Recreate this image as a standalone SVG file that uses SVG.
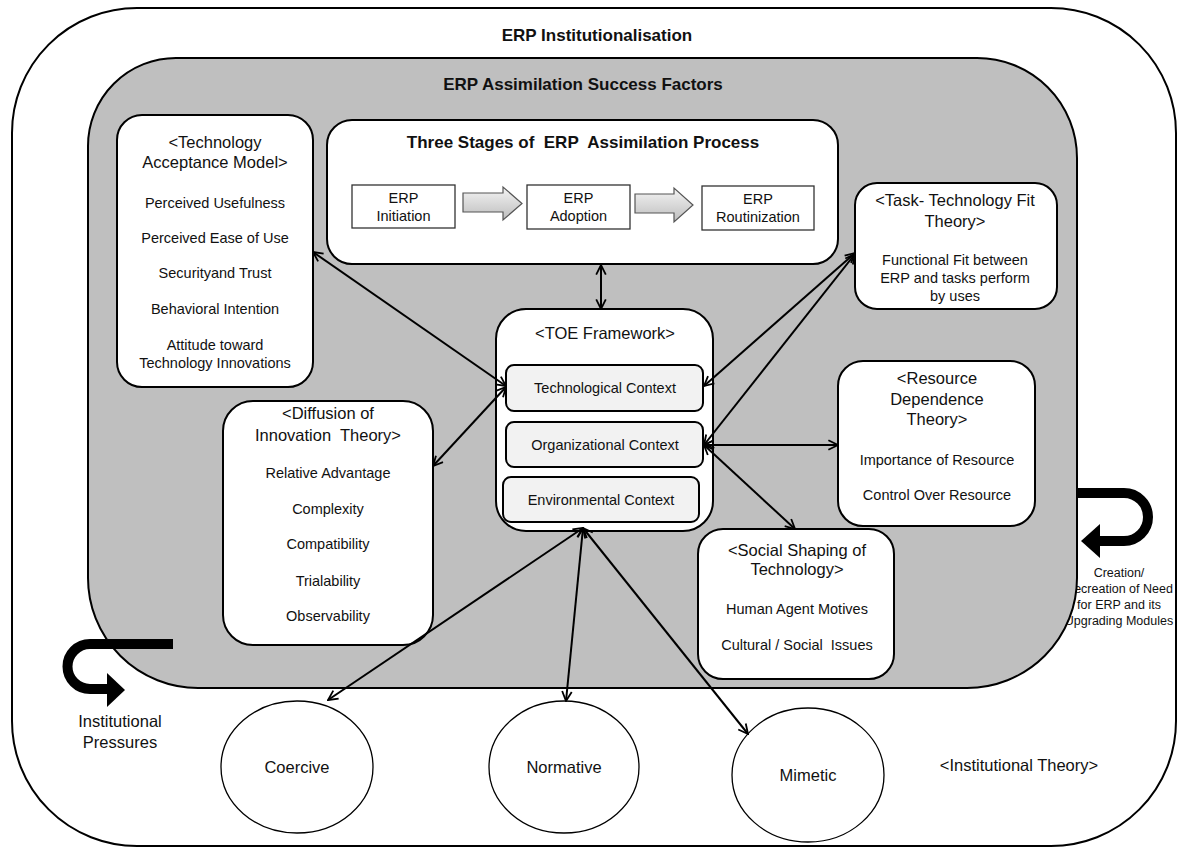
<svg xmlns="http://www.w3.org/2000/svg" width="1180" height="849" viewBox="0 0 1180 849">
<defs>
<marker id="ah" viewBox="0 0 10 10" markerWidth="6" markerHeight="6" refX="9" refY="5" orient="auto-start-reverse">
<path d="M1,1 L9,5 L1,9" fill="none" stroke="#000" stroke-width="1.5"/>
</marker>
<linearGradient id="blk" x1="0" y1="0" x2="0" y2="1">
<stop offset="0" stop-color="#f4f4f4"/>
<stop offset="1" stop-color="#bdbdbd"/>
</linearGradient>
<style>
text{font-family:"Liberation Sans",Arial,sans-serif;fill:#111;text-anchor:middle}
.t{font-size:17px;font-weight:bold}
.h{font-size:16.5px}
.i{font-size:14.5px}
.s{font-size:14.5px}
.c{font-size:12.5px}
.box{fill:#fff;stroke:#000;stroke-width:2}
.ctx{fill:#f2f2f2;stroke:#000;stroke-width:2}
.stage{fill:#fff;stroke:#333;stroke-width:1.3}
.blk{fill:url(#blk);stroke:#555;stroke-width:1.2}
.con{fill:none;stroke:#000;stroke-width:2;marker-start:url(#ah);marker-end:url(#ah)}
.big{fill:none;stroke:#000;stroke-width:10}
.ell{fill:#fff;stroke:#000;stroke-width:1.3}
</style>
</defs>

<g id="institutionalisation">
<rect x="12" y="8" width="1164" height="838" rx="125" fill="#fff" stroke="#000" stroke-width="2"/>
<text class="t" x="597" y="41">ERP Institutionalisation</text>
</g>

<g id="creation-need">
<text class="c" x="1119" y="577">Creation/</text>
<text class="c" x="1119" y="593">Recreation of Need</text>
<text class="c" x="1119" y="609">for ERP and its</text>
<text class="c" x="1119" y="625">Upgrading Modules</text>
</g>

<g id="assimilation-factors">
<path d="M176,58 H977 A100,100 0 0 1 1077,158 V578 A110,110 0 0 1 967,688 H198 A110,110 0 0 1 88,578 V146 A88,88 0 0 1 176,58 Z" fill="#bfbfbf" stroke="#000" stroke-width="2"/>
<text class="t" x="583" y="90">ERP Assimilation Success Factors</text>
</g>

<g id="creation-arrow">
<path class="big" d="M1077,493 H1124 A24,24 0 0 1 1124,541 H1098"/>
<polygon points="1100,524 1081,541 1100,558" fill="#000"/>
</g>

<g id="tam">
<rect class="box" x="117" y="115" width="196" height="272" rx="25"/>
<text class="h" x="215" y="148">&lt;Technology</text>
<text class="h" x="215" y="168">Acceptance Model&gt;</text>
<text class="i" x="215" y="208">Perceived Usefulness</text>
<text class="i" x="215" y="243">Perceived Ease of Use</text>
<text class="i" x="215" y="278">Securityand Trust</text>
<text class="i" x="215" y="314">Behavioral Intention</text>
<text class="i" x="215" y="350">Attitude toward</text>
<text class="i" x="215" y="368">Technology Innovations</text>
</g>

<g id="three-stages">
<rect class="box" x="327" y="120" width="511" height="144" rx="25"/>
<text x="583" y="148" style="font-size:17px;font-weight:bold;white-space:pre">Three Stages of  ERP  Assimilation Process</text>
<rect class="stage" x="352" y="185" width="103" height="43"/>
<text class="s" x="403.5" y="203">ERP</text>
<text class="s" x="403.5" y="221">Initiation</text>
<polygon class="blk" points="463,193 503,193 503,187 522,203.5 503,220 503,212 463,212"/>
<rect class="stage" x="527" y="185" width="103" height="44"/>
<text class="s" x="578.5" y="203">ERP</text>
<text class="s" x="578.5" y="221">Adoption</text>
<polygon class="blk" points="635,194 674,194 674,188 693,205 674,222 674,213 635,213"/>
<rect class="stage" x="702" y="186" width="112" height="44"/>
<text class="s" x="758" y="204">ERP</text>
<text class="s" x="758" y="222">Routinization</text>
</g>

<g id="toe">
<rect class="box" x="496" y="309" width="217" height="222" rx="30"/>
<text class="h" x="605" y="339">&lt;TOE Framework&gt;</text>
<rect class="ctx" x="506" y="365" width="197" height="46" rx="8"/>
<text class="i" x="605" y="393">Technological Context</text>
<rect class="ctx" x="506" y="422" width="197" height="45" rx="8"/>
<text class="i" x="605" y="450">Organizational Context</text>
<rect class="ctx" x="503" y="477" width="196" height="45" rx="8"/>
<text class="i" x="601" y="505">Environmental Context</text>
</g>

<g id="ttf">
<rect class="box" x="855" y="183" width="202" height="126" rx="22"/>
<text class="h" x="955" y="206">&lt;Task- Technology Fit</text>
<text class="h" x="955" y="227">Theory&gt;</text>
<text class="i" x="955" y="265">Functional Fit between</text>
<text class="i" x="955" y="283">ERP and tasks perform</text>
<text class="i" x="955" y="301">by uses</text>
</g>

<g id="rdt">
<rect class="box" x="838" y="361" width="197" height="165" rx="25"/>
<text class="h" x="937" y="384">&lt;Resource</text>
<text class="h" x="937" y="405">Dependence</text>
<text class="h" x="937" y="425">Theory&gt;</text>
<text class="i" x="937" y="465">Importance of Resource</text>
<text class="i" x="937" y="500">Control Over Resource</text>
</g>

<g id="sst">
<rect class="box" x="698" y="529" width="196" height="150" rx="25"/>
<text class="h" x="797" y="556">&lt;Social Shaping of</text>
<text class="h" x="797" y="575">Technology&gt;</text>
<text class="i" x="797" y="614">Human Agent Motives</text>
<text class="i" x="797" y="650" style="white-space:pre">Cultural / Social  Issues</text>
</g>

<g id="doi">
<rect class="box" x="223" y="401" width="210" height="244" rx="30"/>
<text class="h" x="328" y="419">&lt;Diffusion of</text>
<text class="h" x="328" y="441" style="white-space:pre">Innovation  Theory&gt;</text>
<text class="i" x="328" y="478">Relative Advantage</text>
<text class="i" x="328" y="514">Complexity</text>
<text class="i" x="328" y="549">Compatibility</text>
<text class="i" x="328" y="586">Trialability</text>
<text class="i" x="328" y="621">Observability</text>
</g>

<g id="coercive">
<ellipse class="ell" cx="297" cy="767" rx="76" ry="66"/>
<text class="h" x="297" y="773">Coercive</text>
</g>
<g id="normative">
<ellipse class="ell" cx="564" cy="767" rx="75" ry="66"/>
<text class="h" x="564" y="773">Normative</text>
</g>
<g id="mimetic">
<ellipse class="ell" cx="808" cy="775" rx="76" ry="67"/>
<text class="h" x="808" y="781">Mimetic</text>
</g>

<g id="institutional-theory">
<text class="h" x="1019" y="771">&lt;Institutional Theory&gt;</text>
</g>

<g id="institutional-pressures">
<path class="big" d="M173,644 H90 A22.5,22.5 0 0 0 90,689 H108"/>
<polygon points="107,673 125,690 107,707" fill="#000"/>
<text class="h" x="120" y="727">Institutional</text>
<text class="h" x="120" y="748">Pressures</text>
</g>

<g id="connectors">
<line class="con" x1="313" y1="252" x2="506" y2="386"/>
<line class="con" x1="433" y1="466" x2="506" y2="387"/>
<line class="con" x1="601" y1="265" x2="601" y2="309"/>
<line class="con" x1="855" y1="253" x2="704" y2="386"/>
<line class="con" x1="855" y1="254" x2="704" y2="445"/>
<line class="con" x1="704" y1="445" x2="838" y2="445"/>
<line class="con" x1="704" y1="445" x2="795" y2="529"/>
<line class="con" x1="583" y1="528" x2="328" y2="700"/>
<line class="con" x1="583" y1="528" x2="566" y2="701"/>
<line class="con" x1="583" y1="528" x2="748" y2="734"/>
</g>
</svg>
